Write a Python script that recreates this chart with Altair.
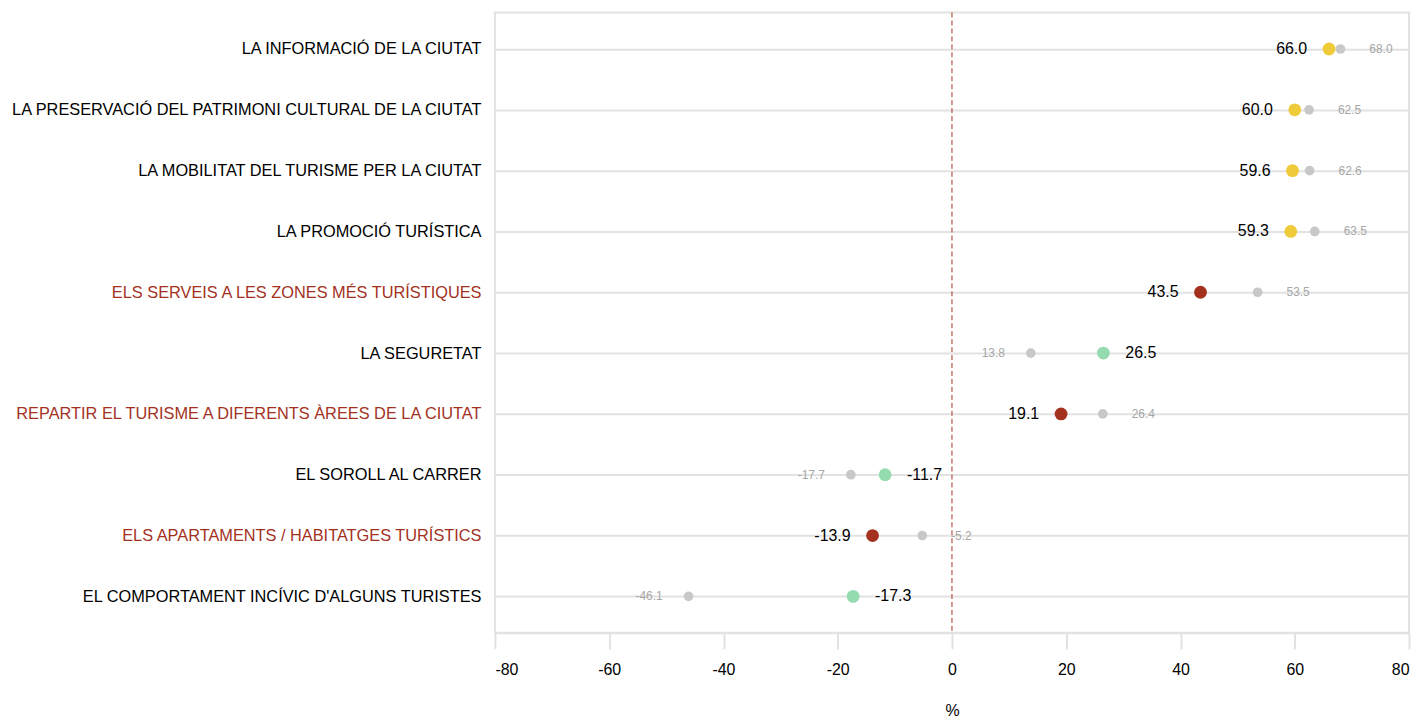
import json
import altair as alt
import pandas as pd

categories = [
    "LA INFORMACIÓ DE LA CIUTAT",
    "LA PRESERVACIÓ DEL PATRIMONI CULTURAL DE LA CIUTAT",
    "LA MOBILITAT DEL TURISME PER LA CIUTAT",
    "LA PROMOCIÓ TURÍSTICA",
    "ELS SERVEIS A LES ZONES MÉS TURÍSTIQUES",
    "LA SEGURETAT",
    "REPARTIR EL TURISME A DIFERENTS ÀREES DE LA CIUTAT",
    "EL SOROLL AL CARRER",
    "ELS APARTAMENTS / HABITATGES TURÍSTICS",
    "EL COMPORTAMENT INCÍVIC D'ALGUNS TURISTES",
]
current = [66.0, 60.0, 59.6, 59.3, 43.5, 26.5, 19.1, -11.7, -13.9, -17.3]
previous = [68.0, 62.5, 62.6, 63.5, 53.5, 13.8, 26.4, -17.7, -5.2, -46.1]
status = ["igual", "igual", "igual", "igual", "pitjor", "millor", "pitjor", "millor", "pitjor", "millor"]
x_ticks = [-80, -60, -40, -20, 0, 20, 40, 60, 80]

YELLOW = "#EFCB3A"
RED = "#A3311E"
GREEN = "#95DBB0"
GRAY = "#C8C8C8"
GRID = "#E2E2E2"

df = pd.DataFrame({"cat": categories, "cur": current, "prev": previous, "status": status})

red_labels = [c for c, s in zip(categories, status) if s == "pitjor"]
label_test = "indexof(" + json.dumps(red_labels, ensure_ascii=False) + ", datum.value) >= 0"

y_enc = alt.Y(
    "cat:N",
    sort=categories,
    title=None,
    scale=alt.Scale(type="point", padding=0.6),
    axis=alt.Axis(
        grid=True, gridColor=GRID, gridWidth=2, domain=False, ticks=False,
        labelPadding=14, labelFontSize=16.4, labelLimit=700,
        labelColor={"condition": {"test": label_test, "value": RED}, "value": "#000000"},
    ),
)
x_scale = alt.Scale(domain=[-80, 80], nice=False, zero=False)
x_axis = alt.Axis(
    values=x_ticks, grid=False,
    labelExpr="replace(format(datum.value, 'd'), '\u2212', '-')",
    domainColor=GRID, domainWidth=2, tickColor=GRID, tickWidth=2, tickSize=16,
    labelPadding=13, labelFontSize=16, labelColor="#000000",
    title="%", titleFontSize=16, titleFontWeight="normal", titleColor="#000000", titlePadding=25,
)

base = alt.Chart(df).transform_calculate(
    cur_lbl="replace(format(datum.cur, '.1f'), '\u2212', '-')",
    prev_lbl="replace(format(datum.prev, '.1f'), '\u2212', '-')",
)

zero_rule = alt.Chart(pd.DataFrame({"z": [0]})).mark_rule(
    color=RED, strokeDash=[5, 3], strokeWidth=1
).encode(x=alt.X("z:Q", scale=x_scale, axis=x_axis))

prev_pts = base.mark_circle(size=95, opacity=1, color=GRAY).encode(
    x=alt.X("prev:Q", scale=x_scale, axis=x_axis), y=y_enc
)
cur_pts = base.mark_circle(size=165, opacity=1).encode(
    x=alt.X("cur:Q", scale=x_scale, axis=x_axis),
    y=y_enc,
    color=alt.Color("status:N", scale=alt.Scale(domain=["igual", "pitjor", "millor"],
                                                range=[YELLOW, RED, GREEN]), legend=None),
)

cur_left = base.transform_filter("datum.cur < datum.prev").mark_text(
    align="right", baseline="middle", dx=-22, fontSize=16, color="#000000"
).encode(x=alt.X("cur:Q", scale=x_scale, axis=x_axis), y=y_enc, text="cur_lbl:N")
cur_right = base.transform_filter("datum.cur >= datum.prev").mark_text(
    align="left", baseline="middle", dx=22, fontSize=16, color="#000000"
).encode(x=alt.X("cur:Q", scale=x_scale, axis=x_axis), y=y_enc, text="cur_lbl:N")
prev_right = base.transform_filter("datum.cur < datum.prev").mark_text(
    align="left", baseline="middle", dx=29, fontSize=12, color="#A6A6A6"
).encode(x=alt.X("prev:Q", scale=x_scale, axis=x_axis), y=y_enc, text="prev_lbl:N")
prev_left = base.transform_filter("datum.cur >= datum.prev").mark_text(
    align="right", baseline="middle", dx=-26, fontSize=12, color="#A6A6A6"
).encode(x=alt.X("prev:Q", scale=x_scale, axis=x_axis), y=y_enc, text="prev_lbl:N")

chart = alt.layer(
    zero_rule, prev_pts, cur_pts, cur_left, cur_right, prev_right, prev_left
).properties(
    width=918, height=623,
    padding={"left": 0, "top": 2, "right": 5, "bottom": 0},
).configure(
    font="Liberation Sans",
).configure_view(
    stroke=GRID, strokeWidth=2,
)

chart.save("out.html", embed_options={"renderer": "svg", "actions": False})
